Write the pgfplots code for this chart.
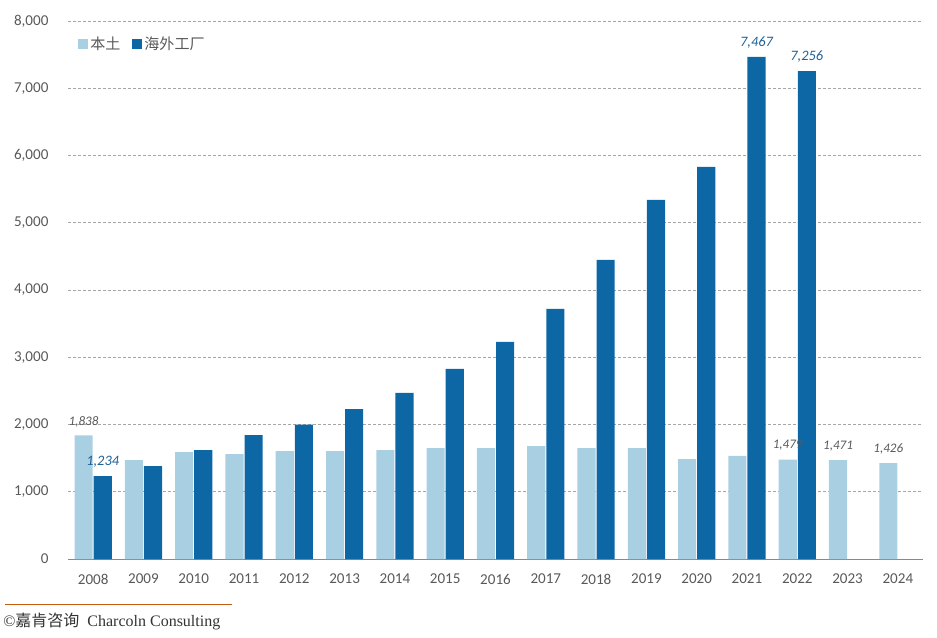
\documentclass[border=0pt]{standalone}
\usepackage{pgfplots}
\pgfplotsset{compat=1.18}
\usepackage{fontspec}
\setmainfont{Carlito}
\newfontfamily\cjk{Noto Sans CJK SC}
\newfontfamily\serif{Liberation Serif}

\definecolor{light}{RGB}{169,207,226}
\definecolor{dark}{RGB}{13,103,165}
\definecolor{txt}{RGB}{89,89,89}
\definecolor{grid}{RGB}{166,166,166}
\definecolor{axisline}{RGB}{137,137,137}
\definecolor{darklbl}{RGB}{31,96,150}
\definecolor{footline}{RGB}{197,90,17}

\pgfplotsset{
  sqlegend/.style={legend image code/.code={\fill[##1,draw=none] (0pt,-3.75pt) rectangle (7.5pt,3.75pt);}},
}

\begin{document}
\begin{tikzpicture}
  \path (0,0) rectangle (702.75pt,-477.75pt);
  \begin{axis}[
    at={(51pt,-419.25pt)}, anchor=south west,
    width=641.25pt, height=403.5pt, scale only axis,
    ybar, bar width=0.36,
    xmin=-0.5, xmax=16.5, ymin=0, ymax=8000,
    xtick={0,...,16},
    xticklabels={2008,2009,2010,2011,2012,2013,2014,2015,2016,2017,2018,2019,2020,2021,2022,2023,2024},
    ytick={0,1000,...,8000},
    /pgf/number format/assume math mode=true,
    /pgf/number format/1000 sep={,},
    scaled y ticks=false,
    major tick length=0pt,
    axis x line*=bottom, axis y line*=left,
    x axis line style={draw=axisline, line width=0.75pt, -},
    y axis line style={draw=none},
    ymajorgrids,
    grid style={draw=grid, dash pattern=on 2.25pt off 1.5pt, line width=0.5pt},
    tick label style={font=\fontsize{11.3}{13}\selectfont, text=txt},
    xticklabel style={anchor=center, inner sep=0pt, yshift=-15pt},
    yticklabel style={anchor=east, inner sep=0pt, xshift=-14.5pt},
    legend columns=2,
    legend style={at={(0.0117,0.957)}, anchor=west, draw=none, fill=none,
      inner sep=0pt, font=\cjk\fontsize{11.3}{13}\selectfont, text=txt,
      nodes={inner sep=1.5pt},
      /tikz/every even column/.append style={column sep=7.5pt}},
  ]
    \addplot[fill=light, draw=none, bar shift=-0.19, sqlegend] coordinates {
      (0,1838) (1,1470) (2,1590) (3,1560) (4,1603) (5,1603) (6,1618)
      (7,1648) (8,1650) (9,1680) (10,1650) (11,1650) (12,1487) (13,1532)
      (14,1479) (15,1471) (16,1426)
    };
    \addlegendentry{本土}
    \addplot[fill=dark, draw=none, bar shift=0.19, sqlegend] coordinates {
      (0,1234) (1,1382) (2,1619) (3,1842) (4,1999) (5,2230) (6,2470)
      (7,2827) (8,3229) (9,3720) (10,4449) (11,5342) (12,5833) (13,7467)
      (14,7256)
    };
    \addlegendentry{海外工厂}

    % data labels
    \begin{scope}[every node/.style={font=\itshape\fontsize{9.8}{11}\selectfont, text=txt, yshift=10.5pt}]
      \node at (axis cs:-0.19,1838) {1,838};
      \node at (axis cs:13.81,1479) {1,479};
      \node at (axis cs:14.81,1471) {1,471};
      \node at (axis cs:15.81,1426) {1,426};
    \end{scope}
    \begin{scope}[every node/.style={font=\itshape\fontsize{10.8}{12}\selectfont, text=darklbl, yshift=10.5pt}]
      \node at (axis cs:0.19,1234) {1,234};
      \node at (axis cs:13.19,7467) {7,467};
      \node at (axis cs:14.19,7256) {7,256};
    \end{scope}
  \end{axis}

  \draw[footline, line width=0.75pt] (3.75pt,-453pt) -- (174pt,-453pt);
  \node[anchor=west, inner sep=0pt, text=black!80] at (2.25pt,-465.75pt)
    {\fontsize{12}{14}\selectfont{\serif ©}{\cjk 嘉肯咨询}\hspace{6pt}{\serif Charcoln Consulting}};
\end{tikzpicture}
\end{document}
